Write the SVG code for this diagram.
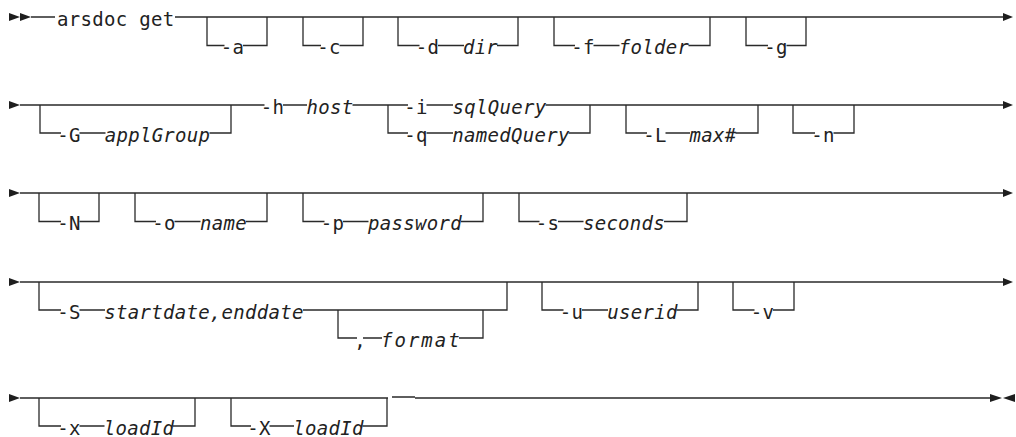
<svg xmlns="http://www.w3.org/2000/svg" width="1016" height="437" viewBox="0 0 1016 437">
<style>
.ln{fill:none;stroke:#2a2a2a;stroke-width:1.3}
.ah{fill:#1e1e1e}
text{font-family:"DejaVu Sans Mono","Liberation Mono",monospace;font-size:19px;letter-spacing:0.3px;fill:#222;text-anchor:middle}
text.st{text-anchor:start}
text.v{font-style:italic}
text.wide{letter-spacing:2px}
</style>
<rect width="1016" height="437" fill="#fff"/>
<g id="connectors">
  <!-- row 1 -->
  <polygon class="ah" points="9,13 20,17 9,21"/>
  <polygon class="ah" points="20,13 31,17 20,21"/>
  <path class="ln" d="M31,17 H55 M175,17 H1004"/>
  <polygon class="ah" points="1003,13 1013,17 1003,21"/>
  <path class="ln" d="M207,17 V45.5 H224.5 M243,45.5 H267 V17"/>
  <path class="ln" d="M303,17 V45.5 H321 M339.5,45.5 H363 V17"/>
  <path class="ln" d="M398,17 V45.5 H419.5 M438,45.5 H464 M497,45.5 H518 V17"/>
  <path class="ln" d="M554,17 V45.5 H575 M593.5,45.5 H619.5 M688.5,45.5 H710 V17"/>
  <path class="ln" d="M746,17 V45.5 H768 M786.5,45.5 H806 V17"/>
  <!-- row 2 -->
  <polygon class="ah" points="9,101 20,105 9,109"/>
  <path class="ln" d="M20,105 H264.5 M283,105 H307 M352.5,105 H408 M426.5,105 H453 M545.5,105 H1004"/>
  <polygon class="ah" points="1003,101 1013,105 1003,109"/>
  <path class="ln" d="M40,105 V133 H61 M79.5,133 H105.5 M209.5,133 H231 V105"/>
  <path class="ln" d="M388,105 V133 H408 M426.5,133 H453 M568.5,133 H590 V105"/>
  <path class="ln" d="M626,105 V133 H647 M665.5,133 H690 M735.5,133 H758 V105"/>
  <path class="ln" d="M793,105 V133 H815 M833.5,133 H854 V105"/>
  <!-- row 3 -->
  <polygon class="ah" points="9,189 20,193 9,197"/>
  <path class="ln" d="M20,193 H1004"/>
  <polygon class="ah" points="1003,189 1013,193 1003,197"/>
  <path class="ln" d="M39,193 V221.5 H61 M79.5,221.5 H99 V193"/>
  <path class="ln" d="M135,193 V221.5 H156 M174.5,221.5 H200.5 M246,221.5 H267 V193"/>
  <path class="ln" d="M303,193 V221.5 H324.5 M343,221.5 H368.5 M461,221.5 H483 V193"/>
  <path class="ln" d="M519,193 V221.5 H539.5 M558,221.5 H583.5 M664,221.5 H687 V193"/>
  <!-- row 4 -->
  <polygon class="ah" points="9,278 20,282 9,286"/>
  <path class="ln" d="M20,282 H1004"/>
  <polygon class="ah" points="1003,278 1013,282 1003,286"/>
  <path class="ln" d="M39,282 V310 H61 M79.5,310 H105 M303,310 H507 V282"/>
  <path class="ln" d="M338,310 V338 H357 M363,338 H382 M459,338 H483 V310"/>
  <path class="ln" d="M542,282 V310 H563.5 M582,310 H608 M676.5,310 H698 V282"/>
  <path class="ln" d="M733,282 V310 H754.5 M773,310 H794 V282"/>
  <!-- row 5 -->
  <polygon class="ah" points="9,394 20,398 9,402"/>
  <path class="ln" d="M20,398 H388 M392,397 H415 M415,398 H991"/>
  <polygon class="ah" points="990,394 1002,398 990,402"/>
  <polygon class="ah" points="1015,394 1003,398 1015,402"/>
  <path class="ln" d="M39,398 V426 H61 M79.5,426 H104.5 M173,426 H195 V398"/>
  <path class="ln" d="M231,398 V426 H251 M269.5,426 H294 M362.5,426 H387 V398"/>
</g>
<g id="cmd"><text class="st" x="57" y="25.5">arsdoc get</text></g>
<g id="opt-a"><text x="232.5" y="54">-a</text></g>
<g id="opt-c"><text x="329" y="54">-c</text></g>
<g id="opt-d"><text x="427.5" y="54">-d</text><text class="v" x="480.5" y="54">dir</text></g>
<g id="opt-f"><text x="583" y="54">-f</text><text class="v" x="654" y="54">folder</text></g>
<g id="opt-g"><text x="776" y="54">-g</text></g>
<g id="opt-G"><text x="69" y="141.5">-G</text><text class="v" x="157.5" y="141.5">applGroup</text></g>
<g id="req-h"><text x="272.5" y="113.5">-h</text><text class="v" x="330" y="113.5">host</text></g>
<g id="choice-i"><text x="416" y="113.5">-i</text><text class="v" x="499.5" y="113.5">sqlQuery</text></g>
<g id="choice-q"><text x="416" y="141.5">-q</text><text class="v" x="511" y="141.5">namedQuery</text></g>
<g id="opt-L"><text x="655" y="141.5">-L</text><text class="v" x="713" y="141.5">max#</text></g>
<g id="opt-n"><text x="823" y="141.5">-n</text></g>
<g id="opt-N"><text x="69" y="230">-N</text></g>
<g id="opt-o"><text x="164" y="230">-o</text><text class="v" x="223.5" y="230">name</text></g>
<g id="opt-p"><text x="332.5" y="230">-p</text><text class="v" x="415" y="230">password</text></g>
<g id="opt-s"><text x="547.5" y="230">-s</text><text class="v" x="624" y="230">seconds</text></g>
<g id="opt-S"><text x="69" y="318.5">-S</text><text class="v" x="204" y="318.5">startdate,enddate</text></g>
<g id="opt-format"><text x="360" y="346.5">,</text><text class="v wide st" x="381" y="346.5">format</text></g>
<g id="opt-u"><text x="571.5" y="318.5">-u</text><text class="v" x="642.5" y="318.5">userid</text></g>
<g id="opt-v"><text x="762.5" y="318.5">-v</text></g>
<g id="opt-x"><text x="69" y="434.5">-x</text><text class="v" x="139" y="434.5">loadId</text></g>
<g id="opt-X"><text x="259" y="434.5">-X</text><text class="v" x="328.5" y="434.5">loadId</text></g>
</svg>
